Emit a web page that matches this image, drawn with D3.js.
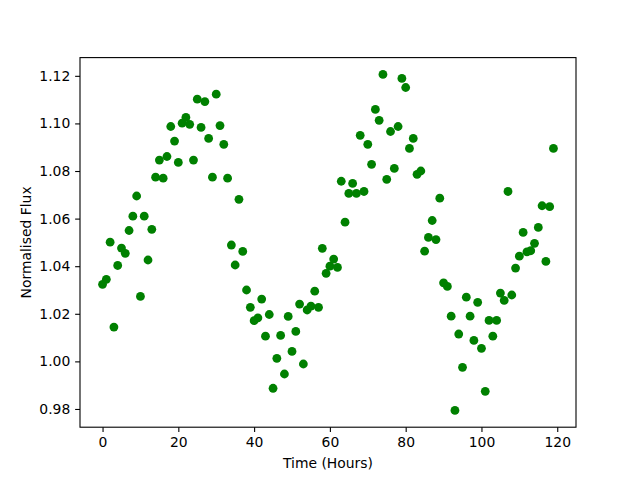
<!DOCTYPE html>
<html>
<head>
<meta charset="utf-8">
<script src="https://cdn.jsdelivr.net/npm/d3@7"></script>
<style>
  html, body { margin: 0; padding: 0; background: #fff; }
  svg { display: block; font-family: "DejaVu Sans", sans-serif; }
</style>
</head>
<body>
<div id="chart"></div>
<script>
// hourly samples, 0..119
const hours = d3.range(0, 120);
const flux = [
  1.0324, 1.0345, 1.0501, 1.0144, 1.0403, 1.0476, 1.0454, 1.0550, 1.0610, 1.0695,
  1.0273, 1.0610, 1.0426, 1.0555, 1.0774, 1.0846, 1.0770, 1.0861, 1.0987, 1.0926,
  1.0836, 1.1001, 1.1025, 1.0996, 1.0846, 1.1102, 1.0983, 1.1092, 1.0937, 1.0774,
  1.1123, 1.0991, 1.0912, 1.0770, 1.0489, 1.0405, 1.0681, 1.0462, 1.0300, 1.0227,
  1.0171, 1.0183, 1.0262, 1.0106, 1.0197, 0.9887, 1.0013, 1.0109, 0.9947, 1.0189,
  1.0042, 1.0126, 1.0241, 0.9989, 1.0216, 1.0232, 1.0295, 1.0227, 1.0475, 1.0370,
  1.0400, 1.0430, 1.0395, 1.0757, 1.0585, 1.0706, 1.0748, 1.0706, 1.0950, 1.0714,
  1.0912, 1.0828, 1.1059, 1.1013, 1.1206, 1.0765, 1.0966, 1.0811, 1.0987, 1.1189,
  1.1151, 1.0895, 1.0937, 1.0786, 1.0800, 1.0463, 1.0521, 1.0592, 1.0512, 1.0686,
  1.0330, 1.0315, 1.0190, 0.9794, 1.0115, 0.9975, 1.0270, 1.0190, 1.0088, 1.0248,
  1.0055, 0.9874, 1.0172, 1.0106, 1.0172, 1.0287, 1.0256, 1.0714, 1.0279, 1.0392,
  1.0442, 1.0542, 1.0460, 1.0465, 1.0496, 1.0563, 1.0654, 1.0420, 1.0650, 1.0895
];
const xTicks = [0, 20, 40, 60, 80, 100, 120];
const yTicks = [0.98, 1.00, 1.02, 1.04, 1.06, 1.08, 1.10, 1.12];

const width = 640, height = 480;
const margin = { top: 57.6, right: 64, bottom: 52.8, left: 80 };
const innerWidth = width - margin.left - margin.right;
const innerHeight = height - margin.top - margin.bottom;
const fontSize = 13.9;
const tickLen = 4.86;

const data = hours.map((h, i) => ({ h, v: flux[i] }));

// matplotlib-style 5% padding
const pad = (lo, hi) => { const m = (hi - lo) * 0.05; return [lo - m, hi + m]; };

const x = d3.scaleLinear()
  .domain(pad(d3.min(hours), d3.max(hours)))
  .range([0, innerWidth]);

const y = d3.scaleLinear()
  .domain(pad(d3.min(flux), d3.max(flux)))
  .range([innerHeight, 0]);

const svg = d3.select('#chart')
  .append('svg')
  .attr('width', width)
  .attr('height', height);

const g = svg.append('g')
  .attr('transform', `translate(${margin.left},${margin.top})`);

// Points
g.selectAll('.dot')
  .data(data)
  .enter()
  .append('circle')
  .attr('class', 'dot')
  .attr('cx', d => x(d.h))
  .attr('cy', d => y(d.v))
  .attr('r', 4.4)
  .attr('fill', '#008000');

// X Axis
const xAxis = g.append('g')
  .attr('transform', `translate(0,${innerHeight})`)
  .call(d3.axisBottom(x).tickValues(xTicks).tickSize(tickLen).tickPadding(4.9).tickFormat(d3.format('d')));

// Y Axis
const yAxis = g.append('g')
  .call(d3.axisLeft(y).tickValues(yTicks).tickSize(tickLen).tickPadding(4.9).tickFormat(d3.format('.2f')));

[xAxis, yAxis].forEach(a => {
  a.select('.domain').remove();
  a.selectAll('line').attr('stroke', '#000').attr('stroke-width', 1.1);
  a.selectAll('text')
    .attr('fill', '#000')
    .style('font-size', fontSize + 'px')
    .style('font-family', '"DejaVu Sans", sans-serif');
});

// Frame
g.append('rect')
  .attr('width', innerWidth)
  .attr('height', innerHeight)
  .attr('fill', 'none')
  .attr('stroke', '#000')
  .attr('stroke-width', 1.1);

// Axis labels
svg.append('text')
  .attr('x', margin.left + innerWidth / 2)
  .attr('y', 468)
  .attr('text-anchor', 'middle')
  .style('font-size', fontSize + 'px')
  .text('Time (Hours)');

svg.append('text')
  .attr('transform', `translate(31,${margin.top + innerHeight / 2}) rotate(-90)`)
  .attr('text-anchor', 'middle')
  .style('font-size', fontSize + 'px')
  .text('Normalised Flux');
</script>
</body>
</html>
